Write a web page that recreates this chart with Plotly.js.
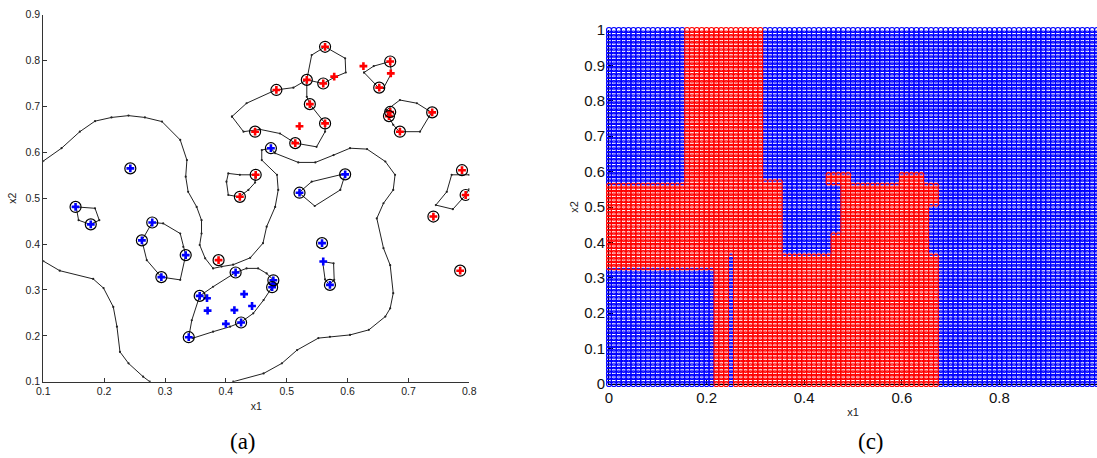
<!DOCTYPE html>
<html><head><meta charset="utf-8">
<script src="https://cdn.plot.ly/plotly-3.0.1.min.js"></script>
<style>html,body{margin:0;padding:0;background:#fff;}#chart{width:1097px;height:458px;}</style>
</head><body><div id="chart"></div>
<script>
// ---------- Panel (a): training points ----------
const blueX = [0.243,0.153,0.178,0.279,0.262,0.334,0.294,0.474,0.521,0.596,0.416,0.357,0.369,0.370,0.430,0.414,0.443,0.400,0.425,0.339,0.478,0.476,0.477,0.558,0.560,0.571];
const blueY = [0.565,0.481,0.443,0.447,0.408,0.376,0.328,0.609,0.512,0.552,0.338,0.287,0.282,0.255,0.291,0.256,0.265,0.226,0.229,0.197,0.321,0.306,0.313,0.402,0.362,0.311];
const redX = [0.483,0.448,0.449,0.423,0.563,0.533,0.560,0.578,0.626,0.670,0.671,0.652,0.538,0.563,0.521,0.514,0.670,0.668,0.739,0.686,0.788,0.794,0.741,0.785,0.388];
const redY = [0.736,0.645,0.551,0.503,0.830,0.758,0.750,0.765,0.788,0.798,0.772,0.741,0.705,0.663,0.657,0.620,0.688,0.679,0.687,0.645,0.561,0.507,0.460,0.342,0.365];
// support vectors (circled)
const svX = [0.243,0.153,0.178,0.279,0.262,0.334,0.294,0.474,0.521,0.596,0.416,0.357,0.425,0.339,0.478,0.476,0.558,0.571,
             0.483,0.448,0.449,0.423,0.563,0.533,0.560,0.670,0.652,0.538,0.563,0.514,0.670,0.668,0.739,0.686,0.788,0.794,0.741,0.785,0.388];
const svY = [0.565,0.481,0.443,0.447,0.408,0.376,0.328,0.609,0.512,0.552,0.338,0.287,0.229,0.197,0.321,0.306,0.402,0.311,
             0.736,0.645,0.551,0.503,0.830,0.758,0.750,0.798,0.741,0.705,0.663,0.620,0.688,0.679,0.687,0.645,0.561,0.507,0.460,0.342,0.365];

// decision boundary curves
const curveMainX = [0.100,0.130,0.160,0.185,0.212,0.240,0.267,0.295,0.325,0.336,0.334,0.338,0.352,0.360,0.360,0.357,0.366,0.379,0.393,0.412,0.440,0.461,0.467,0.481,0.486,0.484,0.459,0.459,0.474,0.481,0.519,0.547,0.577,0.604,0.632,0.662,0.678,0.675,0.659,0.648,0.659,0.670,0.675,0.670,0.662,0.635,0.604,0.571,0.552,0.517,0.492,0.462,0.412];
const curveMainY = [0.581,0.609,0.645,0.668,0.676,0.680,0.676,0.667,0.627,0.583,0.547,0.514,0.481,0.452,0.423,0.398,0.369,0.347,0.351,0.355,0.370,0.402,0.438,0.481,0.518,0.551,0.583,0.605,0.609,0.598,0.578,0.578,0.594,0.609,0.607,0.580,0.551,0.518,0.489,0.456,0.391,0.354,0.293,0.260,0.242,0.213,0.202,0.198,0.195,0.169,0.140,0.118,0.100];
const curveLowX = [0.100,0.127,0.182,0.199,0.215,0.221,0.226,0.240,0.264,0.275];
const curveLowY = [0.363,0.342,0.324,0.304,0.263,0.220,0.165,0.140,0.111,0.100];
const loop1X = [0.154,0.185,0.192,0.177,0.158,0.154];
const loop1Y = [0.481,0.478,0.452,0.443,0.452,0.481];
const loop2X = [0.279,0.297,0.325,0.330,0.334,0.325,0.294,0.270,0.262,0.279];
const loop2Y = [0.447,0.445,0.423,0.394,0.376,0.322,0.328,0.365,0.408,0.447];
const loop3X = [0.339,0.344,0.357,0.379,0.416,0.434,0.453,0.467,0.478,0.476,0.462,0.445,0.424,0.407,0.379,0.346,0.339];
const loop3Y = [0.197,0.234,0.287,0.307,0.338,0.347,0.347,0.336,0.322,0.306,0.278,0.249,0.229,0.220,0.209,0.195,0.197];
const loop4X = [0.559,0.577,0.578,0.570,0.563,0.559];
const loop4Y = [0.362,0.358,0.322,0.311,0.323,0.362];
const loop5X = [0.520,0.541,0.588,0.596,0.588,0.546,0.520];
const loop5Y = [0.512,0.536,0.551,0.552,0.518,0.483,0.512];
const loop6X = [0.448,0.423,0.404,0.401,0.404,0.422,0.437,0.448,0.448];
const loop6Y = [0.551,0.551,0.554,0.536,0.507,0.503,0.518,0.534,0.551];
const loop7X = [0.410,0.434,0.482,0.511,0.533,0.533,0.538,0.563,0.563,0.549,0.514,0.489,0.456,0.429,0.410];
const loop7Y = [0.678,0.707,0.736,0.741,0.758,0.721,0.705,0.663,0.645,0.612,0.620,0.641,0.650,0.645,0.678];
const loop8X = [0.533,0.541,0.563,0.596,0.597,0.579,0.560,0.533];
const loop8Y = [0.758,0.812,0.830,0.805,0.774,0.764,0.750,0.758];
const loop9X = [0.627,0.643,0.670,0.672,0.659,0.651,0.627];
const loop9Y = [0.774,0.788,0.798,0.772,0.740,0.741,0.774];
const loop10X = [0.664,0.686,0.714,0.738,0.719,0.685,0.675,0.666,0.664];
const loop10Y = [0.692,0.714,0.707,0.687,0.645,0.645,0.660,0.681,0.692];
const loop11X = [0.800,0.771,0.763,0.745,0.773,0.794,0.800];
const loop11Y = [0.551,0.551,0.514,0.485,0.476,0.507,0.520];

// ---------- Panel (c): classified regions (painted in order over a blue background) ----------
const gridStep = 0.01;
const regionClass = ['red','red','red','red','blue','blue','blue','blue','blue','red','red'];
const regionX0 = [0.16,0.00,0.31,0.36,0.00,0.25,0.36,0.46,0.66,0.45,0.60];
const regionX1 = [0.31,0.35,0.35,0.67,0.21,0.25,0.45,0.47,0.67,0.49,0.64];
const regionY0 = [0.57,0.00,0.57,0.00,0.00,0.00,0.37,0.43,0.37,0.57,0.57];
const regionY1 = [1.00,0.56,0.57,0.56,0.32,0.36,0.56,0.56,0.50,0.59,0.59];

// ---------- build ----------
const curvesX = [curveMainX,curveLowX,loop1X,loop2X,loop3X,loop4X,loop5X,loop6X,loop7X,loop8X,loop9X,loop10X,loop11X];
const curvesY = [curveMainY,curveLowY,loop1Y,loop2Y,loop3Y,loop4Y,loop5Y,loop6Y,loop7Y,loop8Y,loop9Y,loop10Y,loop11Y];
let cx = [], cy = [];
curvesX.forEach((arr,i)=>{ cx = cx.concat(arr,[null]); cy = cy.concat(curvesY[i],[null]); });

const gBX=[],gBY=[],gRX=[],gRY=[];
const n = Math.round(1/gridStep);
for(let i=0;i<=n;i++){
  for(let j=0;j<=n;j++){
    const x = +(i*gridStep).toFixed(2), y = +(j*gridStep).toFixed(2);
    let c = 'blue';
    for(let k=0;k<regionClass.length;k++){
      if(x>=regionX0[k]-1e-9 && x<=regionX1[k]+1e-9 && y>=regionY0[k]-1e-9 && y<=regionY1[k]+1e-9) c = regionClass[k];
    }
    if(c==='blue'){gBX.push(x);gBY.push(y);} else {gRX.push(x);gRY.push(y);}
  }
}

const traces = [
  {x:cx,y:cy,type:'scatter',mode:'lines+markers',xaxis:'x',yaxis:'y',line:{color:'#222',width:1},marker:{size:2.2,color:'#222'},connectgaps:false,hoverinfo:'skip'},
  {x:blueX,y:blueY,type:'scatter',mode:'markers',xaxis:'x',yaxis:'y',marker:{symbol:'cross',size:6.5,color:'#0000ff'}},
  {x:redX,y:redY,type:'scatter',mode:'markers',xaxis:'x',yaxis:'y',marker:{symbol:'cross',size:6.5,color:'#ff0000'}},
  {x:svX,y:svY,type:'scatter',mode:'markers',xaxis:'x',yaxis:'y',marker:{symbol:'circle-open',size:11,color:'#000',line:{width:1.2,color:'#000'}}},
  {x:gBX,y:gBY,type:'scatter',mode:'markers',xaxis:'x2',yaxis:'y2',cliponaxis:false,marker:{symbol:'circle-open',size:5,color:'#0000ff',line:{width:1.15,color:'#0000ff'}}},
  {x:gRX,y:gRY,type:'scatter',mode:'markers',xaxis:'x2',yaxis:'y2',cliponaxis:false,marker:{symbol:'circle-open',size:5,color:'#ff0000',line:{width:1.15,color:'#ff0000'}}}
];

const fam = 'Liberation Sans, Arial, sans-serif';
const W = 1097, H = 458;
const layout = {
  width:W,height:H,margin:{l:0,r:0,t:0,b:0},paper_bgcolor:'#fff',plot_bgcolor:'#fff',showlegend:false,
  font:{family:fam,color:'#111'},
  xaxis:{domain:[43.3/W,469.3/W],range:[0.1,0.8],anchor:'y',tickvals:[0.1,0.2,0.3,0.4,0.5,0.6,0.7,0.8],ticktext:['0.1','0.2','0.3','0.4','0.5','0.6','0.7','0.8'],
    ticks:'inside',ticklen:4,tickcolor:'#333',showline:true,linecolor:'#333',linewidth:1,showgrid:false,zeroline:false,tickfont:{size:10.5,family:fam,color:'#222'},
    title:{text:'x1',font:{size:10.5,family:fam,color:'#222'},standoff:6}},
  yaxis:{domain:[1-381.7/H,1-14.7/H],range:[0.1,0.9],anchor:'x',tickvals:[0.1,0.2,0.3,0.4,0.5,0.6,0.7,0.8,0.9],ticktext:['0.1','0.2','0.3','0.4','0.5','0.6','0.7','0.8','0.9'],
    ticks:'inside',ticklen:4,tickcolor:'#333',showline:true,linecolor:'#333',linewidth:1,showgrid:false,zeroline:false,tickfont:{size:10.5,family:fam,color:'#222'},
    title:{text:'x2',font:{size:10.5,family:fam,color:'#222'},standoff:6}},
  xaxis2:{domain:[609/W,1],range:[0,1],anchor:'y2',tickvals:[0,0.2,0.4,0.6,0.8,1],ticktext:['0','0.2','0.4','0.6','0.8','1'],
    ticks:'inside',ticklen:4,tickcolor:'#000',showline:true,linecolor:'#000',linewidth:1,layer:'below traces',showgrid:false,zeroline:false,tickfont:{size:15,family:fam,color:'#111'},
    title:{text:'x1',font:{size:11,family:fam,color:'#222'},standoff:3}},
  yaxis2:{domain:[1-384/H,1-30/H],range:[0,1],anchor:'x2',tickvals:[0,0.1,0.2,0.3,0.4,0.5,0.6,0.7,0.8,0.9,1],ticktext:['0','0.1','0.2','0.3','0.4','0.5','0.6','0.7','0.8','0.9','1'],
    ticks:'inside',ticklen:4,tickcolor:'#000',showline:true,linecolor:'#000',linewidth:1,layer:'below traces',showgrid:false,zeroline:false,tickfont:{size:15,family:fam,color:'#111'},
    title:{text:'x2',font:{size:11,family:fam,color:'#222'},standoff:3}},
  annotations:[
    {text:'(a)',xref:'paper',yref:'paper',x:243/W,y:1-441/H,showarrow:false,xanchor:'center',yanchor:'middle',font:{family:'Liberation Serif, Times New Roman, serif',size:23,color:'#000'}},
    {text:'(c)',xref:'paper',yref:'paper',x:871/W,y:1-441/H,showarrow:false,xanchor:'center',yanchor:'middle',font:{family:'Liberation Serif, Times New Roman, serif',size:23,color:'#000'}}
  ]
};
Plotly.newPlot('chart',traces,layout,{staticPlot:true,displayModeBar:false});
</script></body></html>
